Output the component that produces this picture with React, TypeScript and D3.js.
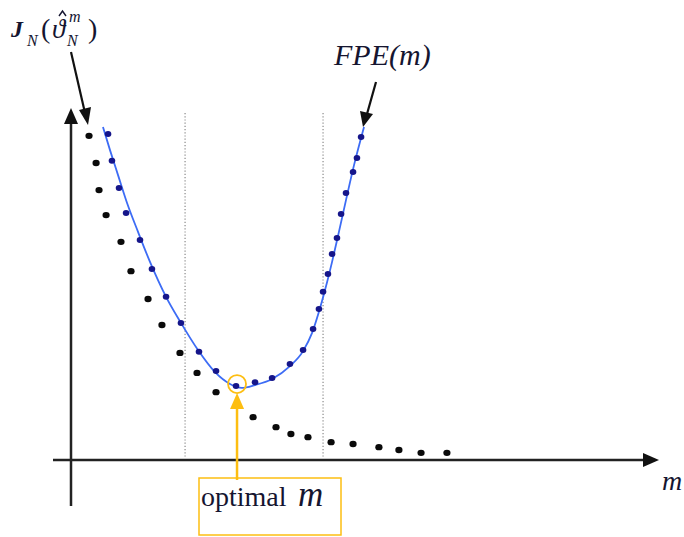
import React from "react";
import * as d3 from "d3";

// Model order m (x) and criterion value (y), in chart units
const jnM = [0.92, 1.28, 1.43, 1.79, 2.55, 3.06, 3.93, 4.64, 5.56, 6.43, 7.40, 9.29, 10.46, 11.22, 12.09, 13.27, 14.39, 15.71, 16.73, 17.86, 19.18];
const jnV = [9.08, 8.32, 7.56, 6.86, 6.11, 5.29, 4.51, 3.78, 3.00, 2.44, 1.90, 1.20, 0.92, 0.73, 0.64, 0.50, 0.45, 0.36, 0.28, 0.20, 0.20];

const fpeM = [1.89, 2.09, 2.45, 2.81, 3.52, 4.13, 4.85, 5.61, 6.53, 7.40, 8.42, 9.39, 10.26, 11.17, 11.84, 12.35, 12.65, 12.86, 13.11, 13.32, 13.57, 13.78, 14.03, 14.39, 14.59, 14.80];
const fpeV = [9.13, 8.38, 7.62, 6.92, 6.16, 5.35, 4.57, 3.84, 3.03, 2.49, 2.07, 2.18, 2.30, 2.69, 3.08, 3.67, 4.23, 4.71, 5.21, 5.77, 6.22, 6.89, 7.48, 8.07, 8.46, 9.05];

// smooth fitted FPE curve
const fitM = [1.63, 1.99, 2.40, 2.86, 3.42, 4.03, 4.85, 5.61, 6.48, 7.35, 8.11, 8.72, 9.39, 10.26, 11.17, 11.84, 12.30, 12.65, 12.96, 13.32, 13.67, 14.03, 14.44, 14.95];
const fitV = [9.33, 8.68, 7.98, 7.20, 6.39, 5.55, 4.57, 3.84, 3.08, 2.46, 2.13, 2.02, 2.10, 2.27, 2.63, 3.05, 3.56, 4.15, 4.76, 5.55, 6.39, 7.28, 8.26, 9.33];

const guideM = [5.82, 12.86];
const optimalM = 8.42;
const optimalV = 2.07;

const W = 684;
const H = 537;

export default function App() {
  const x = d3.scaleLinear().domain([0, 30]).range([71, 659]);
  const y = d3.scaleLinear().domain([0, 10]).range([460, 103]);

  const fit = fitM.map((m, i) => [m, fitV[i]] as [number, number]);
  const line = d3
    .line<[number, number]>()
    .x((d) => x(d[0]))
    .y((d) => y(d[1]))
    .curve(d3.curveMonotoneX);

  const x0 = x(0);
  const y0 = y(0);
  const ox = x(optimalM);
  const oy = y(optimalV);
  const orange = "#FDBE12";
  const ink = "#151530";

  return (
    <svg
      width={W}
      height={H}
      style={{ position: "absolute", left: 0, top: 0, display: "block", background: "#fff" }}
      fontFamily="'Liberation Serif', 'Times New Roman', serif"
    >
      {/* dotted guides */}
      {guideM.map((g, i) => (
        <line key={i} x1={x(g)} x2={x(g)} y1={113} y2={457} stroke="#8a8a8a" strokeWidth={1.2} strokeDasharray="1.2,2" />
      ))}

      {/* axes */}
      <line x1={x0} x2={x0} y1={506} y2={120} stroke="#222" strokeWidth={2.5} />
      <path d={`M${x0},${108} L${x0 - 7},${124} L${x0 + 7},${124} Z`} fill="#111" />
      <line x1={53} x2={645} y1={y0} y2={y0} stroke="#222" strokeWidth={2.5} />
      <path d={`M${659},${y0} L${643},${y0 - 7} L${643},${y0 + 7} Z`} fill="#111" />

      {/* J_N dots */}
      {jnM.map((m, i) => (
        <ellipse key={i} cx={x(m)} cy={y(jnV[i])} rx={3.6} ry={3.2} fill="#0a0a0a" />
      ))}

      {/* FPE fitted curve */}
      <path d={line(fit) || ""} fill="none" stroke="#3d6cf5" strokeWidth={1.8} />
      {fpeM.map((m, i) => (
        <ellipse key={i} cx={x(m)} cy={y(fpeV[i])} rx={3.3} ry={3} fill="#15158a" />
      ))}

      {/* optimal marker */}
      <circle cx={ox + 1} cy={oy - 2} r={9} fill="none" stroke={orange} strokeWidth={1.8} />
      <line x1={ox + 1} x2={ox + 1} y1={480} y2={404} stroke={orange} strokeWidth={2.5} />
      <path d={`M${ox + 1},${393} L${ox - 6},${409} L${ox + 8},${409} Z`} fill={orange} />
      <rect x={199} y={478} width={142} height={57} fill="none" stroke={orange} strokeWidth={1.5} />
      <text x={201} y={506} fontSize={28} fill={ink}>optimal</text>
      <text x={298} y={506} fontSize={35} fontStyle="italic" fill={ink}>m</text>

      {/* J_N label */}
      <text x={11} y={37} fontSize={24} fontStyle="italic" fontWeight="bold" fill={ink}>J</text>
      <text x={27} y={46} fontSize={16} fontStyle="italic" fill={ink}>N</text>
      <text x={41} y={38} fontSize={28} fill={ink}>(</text>
      <text x={52} y={38} fontSize={27} fontStyle="italic" fill={ink}>ϑ</text>
      <path d="M59,16 L62.5,11 L66,16" fill="none" stroke={ink} strokeWidth={1.4} />
      <text x={69} y={22} fontSize={16} fontStyle="italic" fill={ink}>m</text>
      <text x={67} y={46} fontSize={16} fontStyle="italic" fill={ink}>N</text>
      <text x={88} y={38} fontSize={28} fill={ink}>)</text>
      <line x1={71} y1={52} x2={85} y2={113} stroke="#111" strokeWidth={2.2} />
      <path d="M88,125 L79,110 L91,107 Z" fill="#111" />

      {/* FPE label */}
      <text x={334} y={65} fontSize={30} fontStyle="italic" fill={ink}>FPE(m)</text>
      <line x1={376} y1={82} x2={367} y2={114} stroke="#111" strokeWidth={2.2} />
      <path d="M363,127 L360,111 L373,114 Z" fill="#111" />

      {/* x-axis label */}
      <text x={662} y={490} fontSize={28} fontStyle="italic" fill={ink}>m</text>
    </svg>
  );
}
